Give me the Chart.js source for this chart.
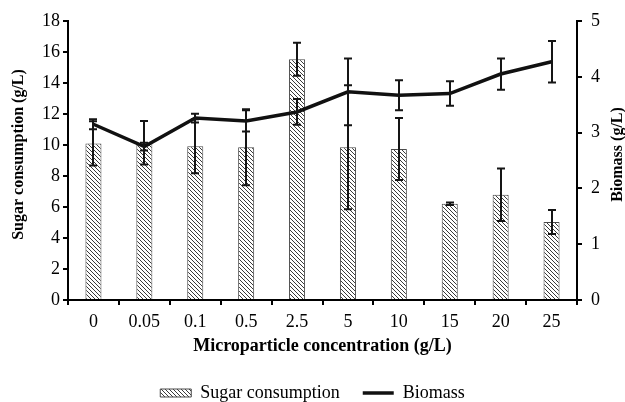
<!DOCTYPE html>
<html>
<head>
<meta charset="utf-8">
<script src="https://cdn.jsdelivr.net/npm/chart.js@4.4.1/dist/chart.umd.min.js"></script>
<style>
  html, body { margin: 0; padding: 0; background: #fff; }
  canvas { display: block; }
</style>
</head>
<body>
<canvas id="chart" width="625" height="402"></canvas>
<script>
// data
const categories = ['0', '0.05', '0.1', '0.5', '2.5', '5', '10', '15', '20', '25'];
const sugar      = [10.1, 10.15, 9.92, 9.86, 15.53, 9.86, 9.75, 6.21, 6.79, 5.03];
const sugarErr   = [1.43, 1.4, 1.74, 2.45, 1.06, 4.0, 2.0, 0.08, 1.7, 0.77];
const biomass    = [3.15, 2.75, 3.26, 3.21, 3.37, 3.73, 3.67, 3.70, 4.05, 4.27];
const biomassErr = [0.09, 0.07, 0.08, 0.19, 0.23, 0.6, 0.27, 0.22, 0.28, 0.37];

const SUGAR_AXIS = [0, 18, 2];   // min, max, step
const BIOMASS_AXIS = [0, 5, 1];

const X_TITLE = 'Microparticle concentration (g/L)';
const Y_TITLE = 'Sugar consumption (g/L)';
const Y1_TITLE = 'Biomass (g/L)';

const FONT = "'Liberation Serif', 'Times New Roman', serif";
const INK = '#000';

Chart.defaults.font.family = FONT;
Chart.defaults.color = INK;

const canvas = document.getElementById('chart');
const ctx = canvas.getContext('2d');

function makeHatch() {
  const c = document.createElement('canvas');
  c.width = 4; c.height = 4;
  const g = c.getContext('2d');
  g.fillStyle = '#fff';
  g.fillRect(0, 0, 4, 4);
  g.strokeStyle = '#3a3a3a';
  g.lineWidth = 1;
  g.beginPath();
  g.moveTo(-1, -1); g.lineTo(5, 5);
  g.moveTo(-1, 3); g.lineTo(1, 5);
  g.moveTo(3, -1); g.lineTo(5, 1);
  g.stroke();
  return ctx.createPattern(c, 'repeat');
}
const hatch = makeHatch();

// error bars for both series, drawn through the chart's own scales
const errorBars = {
  id: 'errorBars',
  afterDatasetsDraw(chart) {
    const c = chart.ctx;
    const sets = [
      { idx: 0, scale: chart.scales.y, vals: sugar, errs: sugarErr },
      { idx: 1, scale: chart.scales.y1, vals: biomass, errs: biomassErr },
    ];
    c.save();
    c.strokeStyle = '#151515';
    c.lineWidth = 2;
    sets.forEach(s => {
      chart.getDatasetMeta(s.idx).data.forEach((el, i) => {
        const x = Math.round(el.x);
        const top = s.scale.getPixelForValue(s.vals[i] + s.errs[i]);
        const bot = s.scale.getPixelForValue(s.vals[i] - s.errs[i]);
        c.beginPath();
        c.moveTo(x, top); c.lineTo(x, bot);
        c.moveTo(x - 4, top); c.lineTo(x + 4, top);
        c.moveTo(x - 4, bot); c.lineTo(x + 4, bot);
        c.stroke();
      });
    });
    c.restore();
  }
};

// rotated y titles (both read bottom-to-top, like the figure)
const yTitles = {
  id: 'yTitles',
  afterDraw(chart) {
    const c = chart.ctx;
    const mid = (chart.chartArea.top + chart.chartArea.bottom) / 2 - 6;
    c.save();
    c.font = 'bold 16px ' + FONT;
    c.fillStyle = INK;
    c.textAlign = 'center';
    c.textBaseline = 'middle';
    [[18.5, Y_TITLE], [chart.width - 7, Y1_TITLE]].forEach(([x, t]) => {
      c.save();
      c.translate(x, mid);
      c.rotate(-Math.PI / 2);
      c.fillText(t, 0, 0);
      c.restore();
    });
    c.restore();
  }
};

const axisGrid = { drawOnChartArea: false, color: INK, lineWidth: 2, tickLength: 5 };
const axisBorder = { color: INK, width: 2 };

new Chart(ctx, {
  data: {
    labels: categories,
    datasets: [
      {
        type: 'bar',
        label: 'Sugar consumption',
        data: sugar,
        yAxisID: 'y',
        backgroundColor: hatch,
        borderColor: '#4a4a4a',
        borderWidth: 1,
        barPercentage: 0.315,
        categoryPercentage: 1,
        pointStyle: 'rect',
        order: 1,
      },
      {
        type: 'line',
        label: 'Biomass',
        data: biomass,
        yAxisID: 'y1',
        borderColor: '#111',
        backgroundColor: '#111',
        borderWidth: 3.5,
        pointRadius: 0,
        tension: 0,
        pointStyle: 'line',
        order: 0,
      },
    ],
  },
  options: {
    responsive: false,
    animation: false,
    events: [],
    layout: { padding: { top: 21, left: 0, right: 0, bottom: 0 } },
    plugins: {
      tooltip: { enabled: false },
      legend: {
        position: 'bottom',
        maxHeight: 41,
        labels: {
          usePointStyle: true,
          pointStyleWidth: 31,
          boxHeight: 8,
          padding: 23,
          color: INK,
          font: { size: 18 },
          sort: (a, b) => a.datasetIndex - b.datasetIndex,
        },
      },
    },
    scales: {
      x: {
        grid: { ...axisGrid, offset: true },
        border: axisBorder,
        ticks: { padding: 6, font: { size: 18 }, color: INK },
        title: { display: true, text: X_TITLE, font: { size: 18, weight: 'bold' }, color: INK, padding: { top: 0, bottom: 4 } },
        afterFit: s => { s.height = 61; },
      },
      y: {
        position: 'left',
        min: SUGAR_AXIS[0], max: SUGAR_AXIS[1],
        grid: axisGrid,
        border: axisBorder,
        ticks: { stepSize: SUGAR_AXIS[2], padding: 3, font: { size: 18 }, color: INK },
        afterFit: s => { s.width = 68; },
      },
      y1: {
        position: 'right',
        min: BIOMASS_AXIS[0], max: BIOMASS_AXIS[1],
        grid: axisGrid,
        border: axisBorder,
        ticks: { stepSize: BIOMASS_AXIS[2], padding: 9, font: { size: 18 }, color: INK },
        afterFit: s => { s.width = 48; },
      },
    },
  },
  plugins: [errorBars, yTitles],
});
</script>
</body>
</html>
